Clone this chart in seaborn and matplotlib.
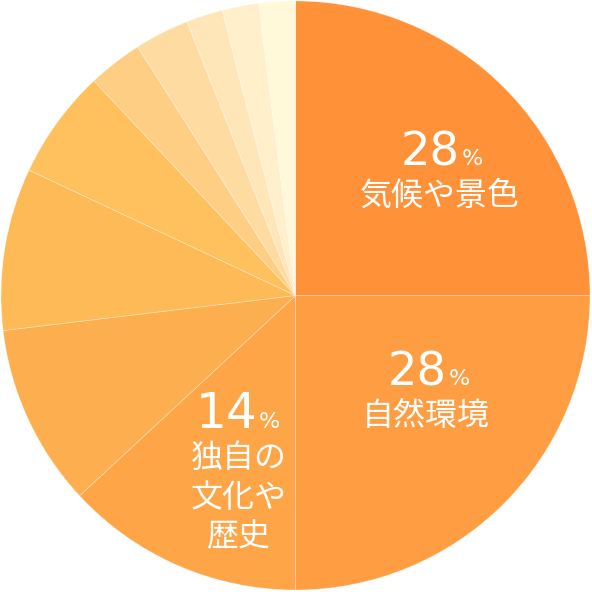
import matplotlib
matplotlib.use("Agg")
import matplotlib.pyplot as plt
import seaborn as sns

# ---- data ----
categories = ["気候や景色", "自然環境", "独自の\n文化や\n歴史", "その他4", "その他5",
              "その他6", "その他7", "その他8", "その他9", "その他10", "その他11"]
shares = [25.0, 25.0, 13.1, 10.0, 8.9, 6.0, 3.0, 3.0, 2.0, 2.0, 2.0]
label_numbers = ["28", "28", "14"]
label_texts = ["気候や景色", "自然環境", "独自の\n文化や\n歴史"]
colors_hex = ["#FF9138", "#FE9D41", "#FDA547", "#FDAE4E", "#FDBA56", "#FEC15D",
              "#FECE85", "#FEDBA1", "#FFE6B8", "#FFEFCA", "#FFF8D9"]

sns.set_theme(style="white")
plt.rcParams["font.family"] = ["Noto Sans CJK JP", "DejaVu Sans"]
palette = sns.color_palette(colors_hex)

W = H = 592
fig = plt.figure(figsize=(W / 100, H / 100), dpi=100)
ax = fig.add_axes([0, 0, 1, 1])
ax.set_axis_off()

cx, cy, R = 295.5, 295.5, 294.5

ax.pie(shares, colors=palette, startangle=90, counterclock=False, radius=1.0,
       wedgeprops=dict(edgecolor=(1, 1, 1, 0.35), linewidth=0.6))
ax.set_xlim(-cx / R, (W - cx) / R)
ax.set_ylim(-(H - cy) / R, cy / R)
ax.set_aspect("equal")


def px(x, y):
    return ((x - cx) / R, (cy - y) / R)


pct_fs, txt_fs = 16, 23
# (right edge of number px, baseline px, text centre x px, first text line centre y px, number size)
layout = [(460, 165, 440, 196, 33.5), (447, 385, 426, 416, 33.5), (257, 428, 239, 458, 35)]
for (nx, nb, tx, ty, nfs), num, txt in zip(layout, label_numbers, label_texts):
    x, y = px(nx, nb)
    ax.text(x, y, num, color="white", fontsize=nfs, ha="right", va="baseline",
            family="DejaVu Sans")
    x2, _ = px(nx + 2, nb)
    ax.text(x2, y, "%", color="white", fontsize=pct_fs, ha="left", va="baseline",
            family="DejaVu Sans")
    for i, line in enumerate(txt.split("\n")):
        xx, yy = px(tx, ty + i * 39.5)
        ax.text(xx, yy, line, color="white", fontsize=txt_fs, ha="center", va="center")

fig.savefig("out.png", dpi=100, facecolor="white")
